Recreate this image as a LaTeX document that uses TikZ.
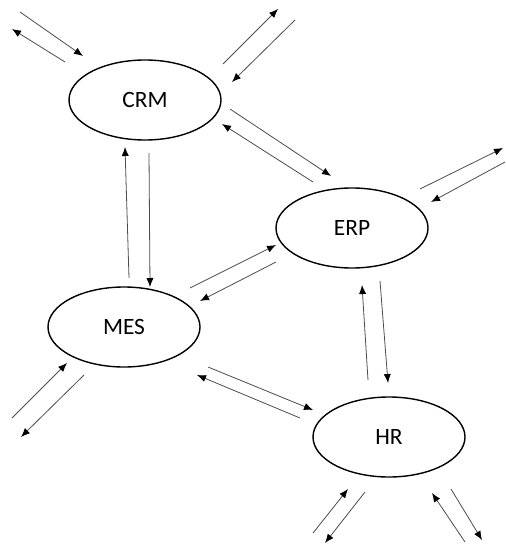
\documentclass[tikz,border=0pt]{standalone}
\usepackage{fontspec}
\setmainfont{Carlito}
\usetikzlibrary{arrows.meta, calc, shapes.geometric}

\begin{document}
\begin{tikzpicture}[
x=0.5pt, y=-0.5pt,
system/.style={ellipse,
  draw=black,
  line width=0.7pt,
  minimum width=76pt,
  minimum height=40pt,
  inner sep=0pt,
  font=\fontsize{11.7}{14}\selectfont,
},
flow/.style={->, draw=black!70, line width=0.4pt},
>={Latex[length=4.5pt,width=3.6pt,black]}
]
\useasboundingbox (0,0) rectangle (505,545);

\node[system] (crm) at (145,100) {CRM};
\node[system] (erp) at (352,228) {ERP};
\node[system] (mes) at (124,327) {MES};
\node[system] (hr)  at (389,437) {HR};

% free ends
\coordinate (crm-nw-in)  at (20,12);
\coordinate (crm-nw-out) at (12,29);
\coordinate (crm-ne-out) at (278,9);
\coordinate (crm-ne-in)  at (295,20);
\coordinate (erp-e-out)  at (503,148);
\coordinate (erp-e-in)   at (505,162);
\coordinate (mes-sw-in)  at (12,418);
\coordinate (mes-sw-out) at (21,437);
\coordinate (hr-sw-in)   at (313,533);
\coordinate (hr-sw-out)  at (325,543);
\coordinate (hr-se-in)   at (465,542);
\coordinate (hr-se-out)  at (482,540);

% outside links
\draw[flow] (crm-nw-in) -- ($(crm)+(-62,-44)$);
\draw[flow] ($(crm)+(-80,-38)$) -- (crm-nw-out);
\draw[flow] ($(crm)+(78,-36)$) -- (crm-ne-out);
\draw[flow] (crm-ne-in) -- ($(crm)+(87,-18)$);
\draw[flow] ($(erp)+(68,-39)$) -- (erp-e-out);
\draw[flow] (erp-e-in) -- ($(erp)+(79,-26)$);
\draw[flow] (mes-sw-in) -- ($(mes)+(-57,36)$);
\draw[flow] ($(mes)+(-40,48)$) -- (mes-sw-out);
\draw[flow] (hr-sw-in) -- ($(hr)+(-41,52)$);
\draw[flow] ($(hr)+(-24,55)$) -- (hr-sw-out);
\draw[flow] (hr-se-in) -- ($(hr)+(43,56)$);
\draw[flow] ($(hr)+(62,52)$) -- (hr-se-out);

% links between systems
\draw[flow] ($(crm)+(85,9)$) -- ($(erp)+(-21,-52)$);
\draw[flow] ($(erp)+(-39,-46)$) -- ($(crm)+(77,24)$);
\draw[flow] ($(mes)+(66,-39)$) -- ($(erp)+(-76,17)$);
\draw[flow] ($(erp)+(-76,34)$) -- ($(mes)+(76,-26)$);
\draw[flow] ($(mes)+(5,-49)$) -- ($(crm)+(-20,47)$);
\draw[flow] ($(crm)+(4,53)$) -- ($(mes)+(26,-40)$);
\draw[flow] ($(hr)+(-21,-57)$) -- ($(erp)+(10,57)$);
\draw[flow] ($(erp)+(28,53)$) -- ($(hr)+(-1,-54)$);
\draw[flow] ($(mes)+(84,40)$) -- ($(hr)+(-76,-27)$);
\draw[flow] ($(hr)+(-89,-19)$) -- ($(mes)+(73,48)$);
\end{tikzpicture}
\end{document}
